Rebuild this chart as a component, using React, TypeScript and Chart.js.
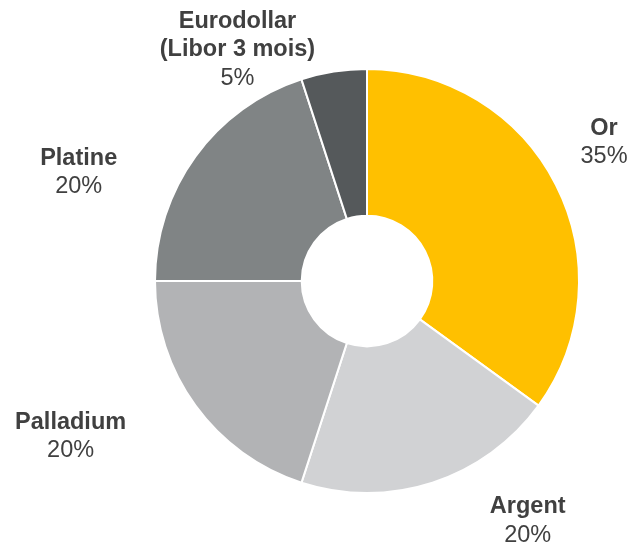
import React, { useEffect, useRef } from 'react';
import { Chart, registerables } from 'chart.js';

Chart.register(...registerables);

const categories = ['Or', 'Argent', 'Palladium', 'Platine', 'Eurodollar (Libor 3 mois)'];
const labelLines = [['Or'], ['Argent'], ['Palladium'], ['Platine'], ['Eurodollar', '(Libor 3 mois)']];
const values = [35, 20, 20, 20, 5];
const colors = ['#FFC000', '#D1D2D4', '#B2B3B5', '#808485', '#55595B'];
// label block centres, relative to the doughnut centre, in units of the outer radius
const labelAnchors = [
  [1.118, -0.668],
  [0.758, 1.118],
  [-1.398, 0.72],
  [-1.36, -0.526],
  [-0.611, -1.104],
];

const FONT = '"Liberation Sans", Arial, Helvetica, sans-serif';
const LINE_H = 28.5;
const BASELINE_FIX = 3;

const labelPlugin = {
  id: 'outerLabels',
  afterDraw(chart: any) {
    const ctx = chart.ctx as CanvasRenderingContext2D;
    const meta = chart.getDatasetMeta(0);
    const data = chart.data.datasets[0].data as number[];
    const total = data.reduce((a, b) => a + b, 0);
    ctx.save();
    ctx.textAlign = 'center';
    ctx.textBaseline = 'middle';
    ctx.fillStyle = '#404040';
    meta.data.forEach((el: any, i: number) => {
      const { x, y, outerRadius } = el.getProps(['x', 'y', 'outerRadius'], true);
      const cx = x + labelAnchors[i][0] * outerRadius;
      const cy = y + labelAnchors[i][1] * outerRadius + BASELINE_FIX;
      const lines = [...labelLines[i], Math.round((data[i] / total) * 100) + '%'];
      const n = lines.length;
      lines.forEach((t, j) => {
        const isPct = j === n - 1;
        ctx.font = `${isPct ? 'normal' : 'bold'} 23.5px ${FONT}`;
        ctx.fillText(t, cx, cy + (j - (n - 1) / 2) * LINE_H);
      });
    });
    ctx.restore();
  },
};

export default function App() {
  const ref = useRef<HTMLCanvasElement>(null);
  useEffect(() => {
    if (!ref.current) return;
    const chart = new Chart(ref.current, {
      type: 'doughnut',
      data: {
        labels: categories,
        datasets: [
          {
            data: values,
            backgroundColor: colors,
            borderColor: '#ffffff',
            borderWidth: 2,
            hoverOffset: 0,
          },
        ],
      },
      options: {
        responsive: false,
        animation: false,
        cutout: '30.8%',
        layout: { padding: { left: 154, right: 49, top: 68, bottom: 50 } },
        plugins: {
          legend: { display: false },
          tooltip: { enabled: false },
        },
      },
      plugins: [labelPlugin],
    });
    return () => chart.destroy();
  }, []);
  return (
    <div style={{ position: 'absolute', left: 0, top: 0, width: 629, height: 544, background: '#fff' }}>
      <canvas ref={ref} width={629} height={544} style={{ width: 629, height: 544 }} />
    </div>
  );
}
